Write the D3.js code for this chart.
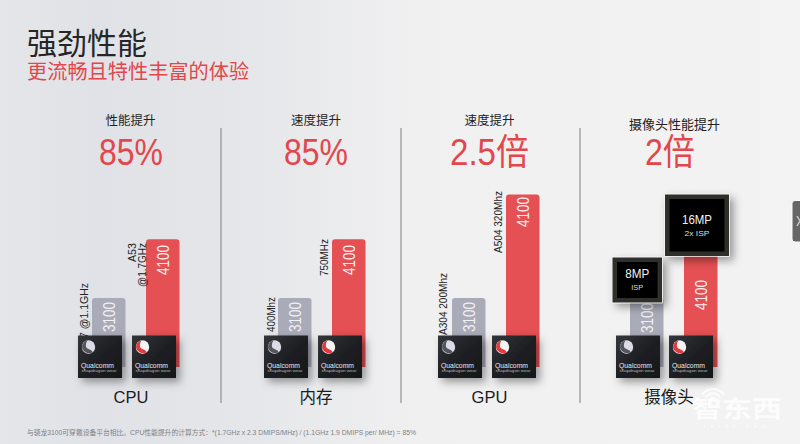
<!DOCTYPE html>
<html lang="zh">
<head>
<meta charset="utf-8">
<script src="https://cdn.jsdelivr.net/npm/d3@7/dist/d3.min.js"></script>
<style>
  html, body { margin: 0; padding: 0; background: #f2f2f2; }
  svg { display: block; }
  text { font-family: "Liberation Sans", "Noto Sans CJK SC", sans-serif; }
</style>
</head>
<body>
<svg id="slide" width="800" height="444"></svg>
<script>
// Slide content
const categories = ["CPU", "内存", "GPU", "摄像头"];
const panelTitles = ["性能提升", "速度提升", "速度提升", "摄像头性能提升"];
const headlines = ["85%", "85%", "2.5倍", "2倍"];
const baseValues = [1, 1, 1, 1];
const upgradedValues = [1.85, 1.85, 2.5, 2];
const baseNotes = ["A7 @1.1GHz", "400Mhz", "A304 200Mhz"];
const upgradedNotes = ["A53", "@1.7GHz", "750MHz", "A504 320Mhz"];
const baseChipName = "3100";
const upgradedChipName = "4100";
const footnote = "与骁龙3100可穿戴设备平台相比。CPU性能提升的计算方式：*(1.7GHz x 2.3 DMIPS/MHz) / (1.1GHz 1.9 DMIPS per/ MHz) = 85%";

const GREY = "#a9abb9", RED = "#e45053", HEAD_RED = "#e2474b";
const svg = d3.select("#slide");
const defs = svg.append("defs");

// Backdrop: cool grey on the left fading to a light neutral grey
const bg = defs.append("linearGradient").attr("id", "bg").attr("x1", 0).attr("x2", 1).attr("y1", 0).attr("y2", 0);
[[0, "#e5e6e9"], [0.12, "#e0e2e7"], [0.3, "#e5e6e9"], [0.52, "#f0f0f1"], [1, "#f3f3f3"]]
  .forEach(([o, c]) => bg.append("stop").attr("offset", o).attr("stop-color", c));
svg.append("rect").attr("width", 800).attr("height", 444).attr("fill", "url(#bg)");

const chipFill = defs.append("linearGradient").attr("id", "chipFill").attr("x1", 0).attr("y1", 0).attr("x2", 1).attr("y2", 1);
[[0, "#33363b"], [0.55, "#1c1e21"], [1, "#16181b"]]
  .forEach(([o, c]) => chipFill.append("stop").attr("offset", o).attr("stop-color", c));

const shadow = defs.append("filter").attr("id", "shadow").attr("x", "-40%").attr("y", "-40%").attr("width", "190%").attr("height", "190%");
shadow.append("feDropShadow").attr("dx", 4).attr("dy", 4).attr("stdDeviation", 4).attr("flood-color", "#000").attr("flood-opacity", 0.38);

const dots = defs.append("pattern").attr("id", "pins").attr("width", 2).attr("height", 2).attr("patternUnits", "userSpaceOnUse");
dots.append("rect").attr("width", 2).attr("height", 2).attr("fill", "#1a1a18");
dots.append("circle").attr("cx", 1).attr("cy", 1).attr("r", 0.6).attr("fill", "#77766a");

// Heading
svg.append("text").attr("x", 27).attr("y", 54).attr("font-size", 30).attr("fill", "#262626").text("强劲性能");
svg.append("text").attr("x", 27).attr("y", 79).attr("font-size", 20.2).attr("fill", HEAD_RED).text("更流畅且特性丰富的体验");

// Scales
const y = d3.scaleLinear().domain([0, 2.5]).range([367, 194.5]);
const barX = d3.scaleOrdinal().domain(categories).range([92, 278, 452, 630]);
const barWidth = 33.5, barStep = 54;
const titleX = d3.scaleOrdinal().domain(categories).range([131, 316, 489.5, 670]);

// Rounded-top column from the baseline up to the value
function column(x, value, fill) {
  const top = y(value), bottom = y(0), r = 3;
  return svg.append("path").attr("fill", fill)
    .attr("d", `M${x},${bottom}V${top + r}Q${x},${top} ${x + r},${top}H${x + barWidth - r}Q${x + barWidth},${top} ${x + barWidth},${top + r}V${bottom}Z`);
}

// Text reading bottom to top; its upper end sits at yTop
function vertical(x, yTop, str, size, fill, length) {
  return svg.append("text")
    .attr("transform", `translate(${x},${yTop}) rotate(-90)`)
    .attr("text-anchor", "end").attr("font-size", size).attr("fill", fill)
    .attr("textLength", length).attr("lengthAdjust", "spacingAndGlyphs").text(str);
}

// Small wearable SoC tile with its logo and wordmark
function socChip(x, top, accent) {
  const g = svg.append("g").attr("transform", `translate(${x},${top})`);
  g.append("rect").attr("width", 44).attr("height", 42.5).attr("fill", "url(#chipFill)").attr("filter", "url(#shadow)");
  const logo = g.append("g").attr("transform", "translate(10.5,11.5)");
  logo.append("circle").attr("r", 6.7).attr("fill", accent === RED ? "#f4f4f4" : "#dcdce8");
  logo.append("path").attr("fill", accent === RED ? "#df3c40" : "#55565c")
    .attr("d", "M-1,-6.6C-6,-5.5 -8,0 -5,3.5C-3,6 1,7 4.2,5.2C3.5,3 1,2.5 -1,1.5C-3.2,0.3 -3,-4 -1,-6.6Z");
  g.append("text").attr("x", 3).attr("y", 32).attr("font-size", 7).attr("fill", "#e8e8ea")
    .attr("textLength", 33).attr("lengthAdjust", "spacingAndGlyphs").text("Qualcomm");
  g.append("text").attr("x", 3.5).attr("y", 36.8).attr("font-size", 3.8).attr("fill", "#b4b5b8")
    .attr("textLength", 35).attr("lengthAdjust", "spacingAndGlyphs").text("snapdragon wear");
}

// Image-processor die with a dotted pin ring
function ispChip(x, top, w, h, labels) {
  const g = svg.append("g").attr("transform", `translate(${x},${top})`);
  g.append("rect").attr("x", -0.7).attr("y", -0.7).attr("width", w + 1.4).attr("height", h + 1.4).attr("fill", "#f6f6f6").attr("filter", "url(#shadow)");
  g.append("rect").attr("width", w).attr("height", h).attr("fill", "url(#pins)");
  g.append("rect").attr("x", 4.5).attr("y", 4.5).attr("width", w - 9).attr("height", h - 9).attr("fill", "#000");
  labels.forEach(l => g.append("text").attr("x", w / 2).attr("y", l.y)
    .attr("text-anchor", "middle").attr("font-size", l.size).attr("fill", l.fill)
    .attr("textLength", l.len).attr("lengthAdjust", "spacingAndGlyphs").text(l.text));
}

// Panel dividers
[221, 401, 580].forEach(x => svg.append("line")
  .attr("x1", x).attr("x2", x).attr("y1", 128).attr("y2", 403)
  .attr("stroke", "#8f9196").attr("stroke-width", 1.2));

// Panel headers
const headlineWidths = [64, 64, 79, 50];
categories.forEach((c, i) => {
  svg.append("text").attr("x", i === 3 ? 674.5 : titleX(c) - (i === 0 ? 0.5 : 0)).attr("y", i === 3 ? 129 : 125)
    .attr("text-anchor", "middle").attr("font-size", i === 3 ? 13 : 12.5).attr("fill", "#222").text(panelTitles[i]);
  svg.append("text").attr("x", titleX(c)).attr("y", 165)
    .attr("text-anchor", "middle").attr("font-size", 36).attr("fill", HEAD_RED)
    .attr("textLength", headlineWidths[i]).attr("lengthAdjust", "spacingAndGlyphs").text(headlines[i]);
});

// Columns and their names
const baseNameTop = [302, 302, 302, 303];
const upgradedNameTop = [245, 245, 197, 280];
categories.forEach((c, i) => {
  const x0 = barX(c), x1 = x0 + barStep;
  column(x0, baseValues[i], GREY);
  column(x1, upgradedValues[i], RED);
  vertical(x0 + 22.5, baseNameTop[i], baseChipName, 16, "#f1f1f4", 30);
  vertical(x1 + 22.5, upgradedNameTop[i], upgradedChipName, 16, "#fbeeee", 30);
});

// Upright notes beside the columns
vertical(88, 283, baseNotes[0], 11.5, "#222", 62);
vertical(275, 297, baseNotes[1], 11, "#222", 35);
vertical(447, 273, baseNotes[2], 11.5, "#222", 62);
vertical(135.5, 243, upgradedNotes[0], 11.5, "#222", 19);
vertical(146, 243, upgradedNotes[1], 11.5, "#222", 44);
vertical(327.5, 239, upgradedNotes[2], 11, "#222", 37);
vertical(502, 191, upgradedNotes[3], 11.5, "#222", 62);

// SoC tiles sit on top of the columns
[[78, 132], [264, 318], [438, 492], [616, 669]].forEach(([a, b]) => {
  socChip(a, 335.5, GREY);
  socChip(b, 335.5, RED);
});

ispChip(612.5, 257.5, 49.5, 45, [
  { text: "8MP", y: 20.5, size: 13, len: 24, fill: "#f2f2f2" },
  { text: "ISP", y: 32.5, size: 8, len: 12, fill: "#dedede" }
]);
ispChip(665, 194.5, 64, 61.5, [
  { text: "16MP", y: 29.5, size: 13, len: 30, fill: "#f2f2f2" },
  { text: "2x ISP", y: 41, size: 8, len: 25, fill: "#dedede" }
]);

// Category captions
categories.forEach(c => svg.append("text").attr("x", titleX(c) - (c === "摄像头" ? 1 : 0)).attr("y", 403)
  .attr("text-anchor", "middle").attr("font-size", 16.5).attr("fill", "#1c1c1c").text(c));

// Footnote
svg.append("text").attr("x", 27).attr("y", 435).attr("font-size", 6.8).attr("fill", "#7f8185")
  .attr("textLength", 389).attr("lengthAdjust", "spacingAndGlyphs").text(footnote);

// Side tab
const tab = svg.append("g");
tab.append("rect").attr("x", 792).attr("y", 200.5).attr("width", 14).attr("height", 41.5).attr("rx", 3)
  .attr("fill", "#666").attr("stroke", "#fbfbfb").attr("stroke-width", 1);
tab.append("path").attr("d", "M797,216L800,221L797,226").attr("fill", "none").attr("stroke", "#cfcfcf").attr("stroke-width", 1.4);

// Publisher mark
const mark = svg.append("g").attr("fill", "#fff").attr("opacity", 0.8);
const arc = d3.arc();
[[3, 5], [7.5, 9.5], [12, 14]].forEach(([r0, r1]) => mark.append("path")
  .attr("transform", "translate(713,402)")
  .attr("d", arc({ innerRadius: r0, outerRadius: r1, startAngle: -1, endAngle: 1 })));
mark.append("text").attr("x", 737).attr("y", 417).attr("text-anchor", "middle").attr("font-size", 23).attr("font-weight", 700)
  .attr("textLength", 90).attr("lengthAdjust", "spacingAndGlyphs").text("智东西");
mark.append("text").attr("x", 737).attr("y", 428).attr("text-anchor", "middle").attr("font-size", 5).attr("letter-spacing", 5).text("zhidx.com");
</script>
</body>
</html>
